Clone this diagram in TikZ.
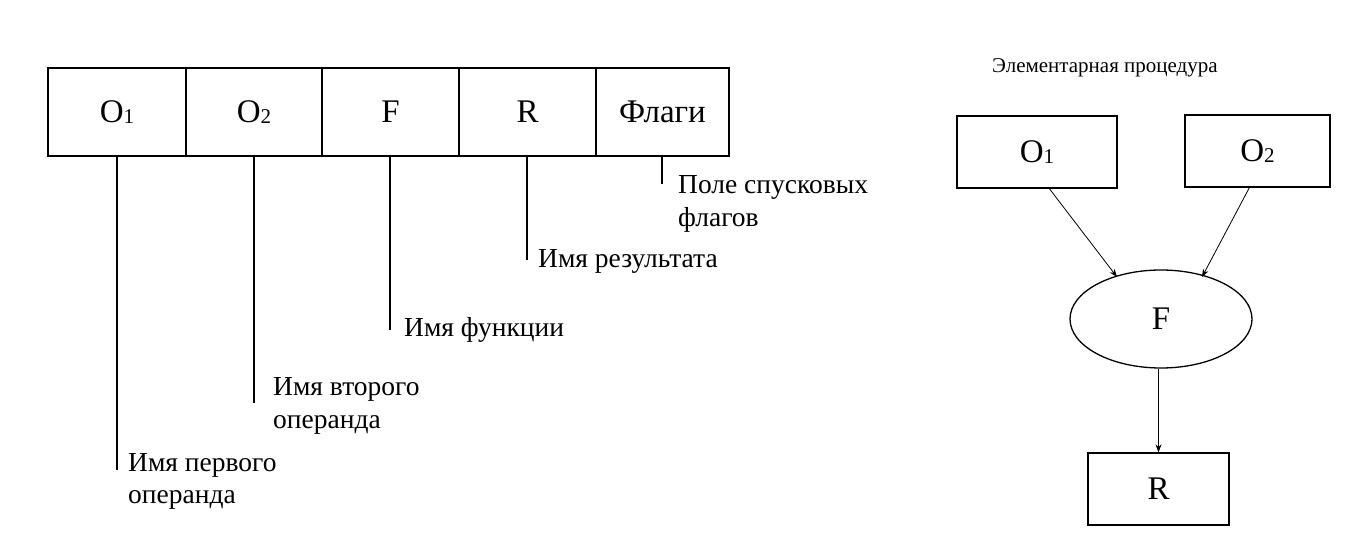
\documentclass[tikz,border=0pt]{standalone}
\usepackage{fontspec}
\setmainfont{Liberation Serif}
\usetikzlibrary{arrows.meta,shapes.geometric}
\newcommand{\subone}[1]{{\fontsize{21}{21}\selectfont\raisebox{-1.5pt}{#1}}}
\begin{document}
\begin{tikzpicture}[x=1pt,y=-1pt,
  cell/.style={draw,line width=2pt,minimum height=88pt,inner sep=0pt,font=\fontsize{33}{33}\selectfont},
  lead/.style={line width=2pt},
  lbl/.style={anchor=base west,inner sep=0pt,font=\fontsize{27.5}{32}\selectfont},
  box/.style={draw,line width=1.3pt,inner sep=0pt,font=\fontsize{33}{33}\selectfont},
  arr/.style={line width=0.8pt,-{Stealth[length=8pt,width=6pt]}}]
\useasboundingbox (0,0) rectangle (1357,545);
% left record
\node[cell,minimum width=138pt] (c1) at (117,112) {O\subone{1}};
\node[cell,minimum width=136pt] (c2) at (254,112) {O\subone{2}};
\node[cell,minimum width=137pt] (c3) at (390.5,112) {F};
\node[cell,minimum width=137pt] (c4) at (527.5,112) {R};
\node[cell,minimum width=133pt] (c5) at (662.5,112) {Флаги};
\coordinate (e1) at (117,470);
\coordinate (e2) at (254,403);
\coordinate (e3) at (390,330);
\coordinate (e4) at (527,260);
\coordinate (e5) at (662,184);
\draw[lead] (c1.south) -- (e1);
\draw[lead] (c2.south) -- (e2);
\draw[lead] (c3.south -| e3) -- (e3);
\draw[lead] (c4.south -| e4) -- (e4);
\draw[lead] (c5.south -| e5) -- (e5);
\node[lbl] (l1a) at (128,471) {Имя первого};
\node[lbl] (l1b) at (128,503) {операнда};
\node[lbl] (l2a) at (273,395) {Имя второго};
\node[lbl] (l2b) at (273,428) {операнда};
\node[lbl] (l3) at (404,336) {Имя функции};
\node[lbl] (l4) at (538,268) {Имя результата};
\node[lbl] (l5a) at (678,194) {Поле спусковых};
\node[lbl] (l5b) at (678,227) {флагов};
% right graph
\node[anchor=base west,inner sep=0pt,font=\fontsize{21}{21}\selectfont] (t) at (992,73) {Элементарная процедура};
\node[box,minimum width=160pt,minimum height=72pt] (o1) at (1037,152) {O\subone{1}};
\node[box,minimum width=145pt,minimum height=72pt] (o2) at (1257.5,151) {O\subone{2}};
\node[draw,ellipse,line width=1.3pt,minimum width=182pt,minimum height=98pt,inner sep=0pt,font=\fontsize{33}{33}\selectfont] (f) at (1161,319) {F};
\node[box,minimum width=141pt,minimum height=72pt] (r) at (1158.5,489) {R};
\draw[arr] (o1.south west) ++(93,0) -- (1117,277);
\draw[arr] (o2.south west) ++(65,0) -- (1202,277);
\draw[arr] (f.south -| r.north) -- (r.north);
\end{tikzpicture}
\end{document}
